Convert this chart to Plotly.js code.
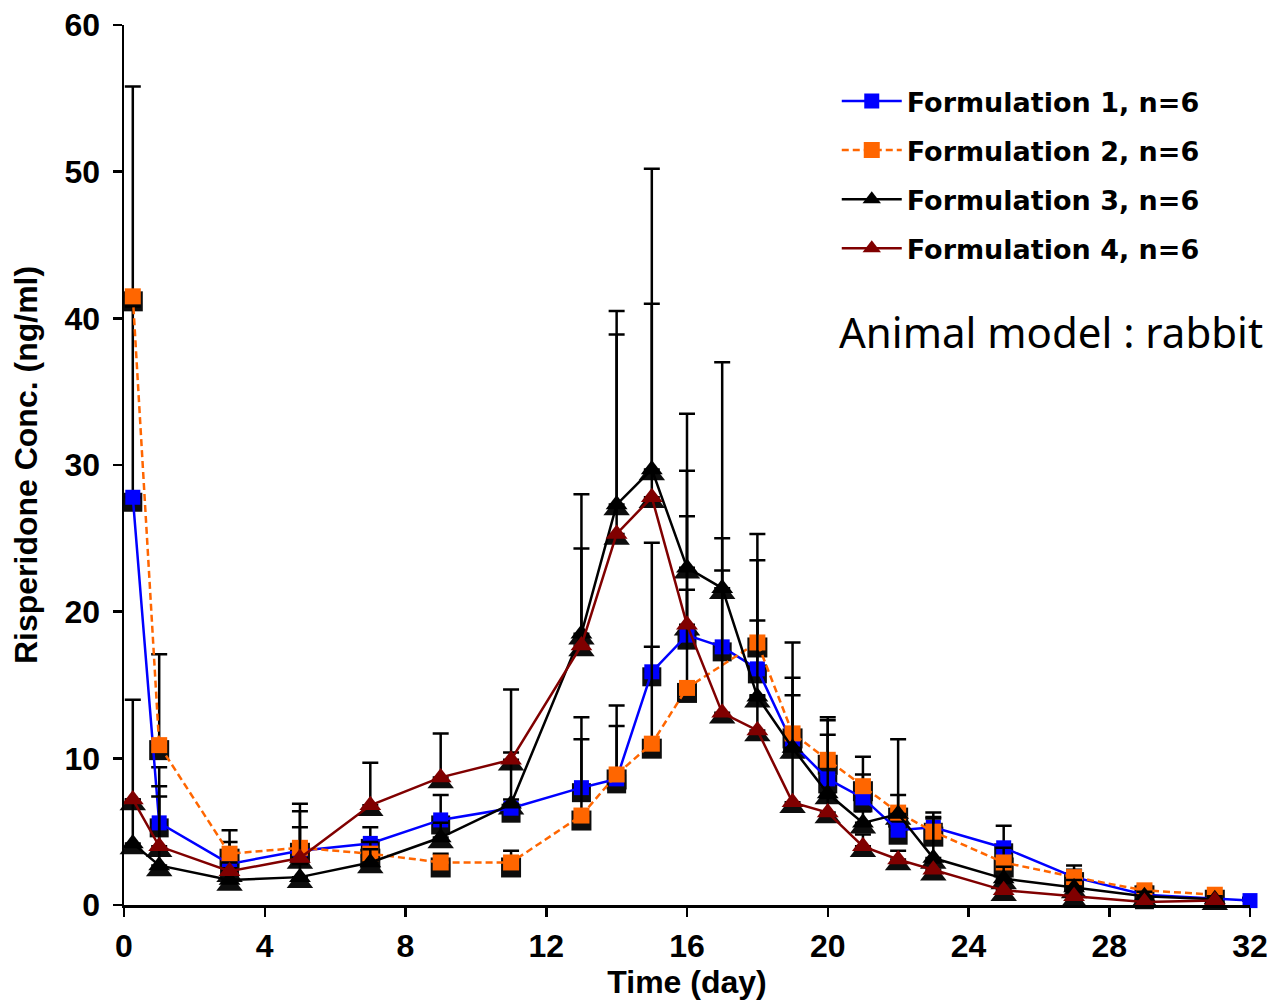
<!DOCTYPE html>
<html>
<head>
<meta charset="utf-8">
<script src="https://cdn.plot.ly/plotly-3.0.1.min.js"></script>
<style>html,body{margin:0;padding:0;background:#fff;}#chart{width:1274px;height:1000px;}</style>
</head>
<body>
<div id="chart"></div>
<script>
// ---- data ----
const days = [0.25, 1, 3, 5, 7, 9, 11, 13, 14, 15, 16, 17, 18, 19, 20, 21, 22, 23, 25, 27, 29, 31, 32];

const seriesNames = ["Formulation 1, n=6", "Formulation 2, n=6", "Formulation 3, n=6", "Formulation 4, n=6"];

const form1 = [27.8, 5.6, 2.8, 3.7, 4.2, 5.8, 6.6, 8.0, 8.6, 15.9, 18.4, 17.6, 16.1, 11.0, 8.6, 7.3, 5.1, 5.3, 3.9, 1.9, 0.7, null, 0.3];
const form2 = [41.5, 10.9, 3.5, 3.9, 3.5, 2.9, 2.9, 6.1, 8.9, 11.0, 14.8, null, 17.9, 11.7, 9.9, 8.1, 6.3, 5.0, 2.9, 1.9, 1.0, 0.7, null];
const form3 = [4.2, 2.7, 1.7, 1.9, 2.9, 4.6, 6.9, 18.5, 27.3, 29.7, 23.0, 21.6, 14.2, 10.7, 7.6, 5.6, 6.2, 3.2, 1.8, 1.2, 0.6, 0.4, null];
const form4 = [7.2, 4.0, 2.3, 3.2, 6.8, 8.7, 9.9, 17.7, 25.3, 27.8, 19.1, 13.1, 11.9, 7.0, 6.3, 4.0, 3.1, 2.4, 1.0, 0.6, 0.2, 0.3, null];

// upper (plus) error bars
const err1 = [13.0, 3.8, 1.5, 2.7, 1.1, 1.7, 0.6, 4.8, 5.0, 8.8, 8.1, 7.4, 7.4, 4.5, 4.0, 1.6, 0.6, 1.0, 1.5, 0.5, 0.3, null, 0.2];
const err2 = [14.3, 6.2, 1.6, 3.0, 0.8, 0.6, 0.8, 5.2, 3.3, 6.6, 6.7, null, 7.4, 6.2, 2.9, 2.0, 1.2, 0.9, 1.0, 0.8, 0.3, 0.2, null];
const err3 = [3.0, 4.7, 0.8, 0.9, 0.9, 1.0, 7.8, 9.5, 13.2, 20.5, 10.5, 15.4, 5.2, 3.6, 4.0, 0.8, 5.1, 2.8, 0.8, 0.5, 0.3, 0.2, null];
const err4 = [6.8, 4.1, 0.6, 2.1, 2.9, 3.0, 0.5, 6.6, 13.6, 13.2, 10.5, 9.7, 2.4, 3.7, 1.0, 0.8, 0.6, 0.5, 0.5, 0.3, 0.2, 0.2, null];

const xTickVals = [0, 4, 8, 12, 16, 20, 24, 28, 32];
const yTickVals = [0, 10, 20, 30, 40, 50, 60];

const annotationText = "Animal model : rabbit";
const xTitle = "Time (day)";
const yTitle = "Risperidone Conc. (ng/ml)";

// ---- styling ----
const values = [form1, form2, form3, form4];
const errors = [err1, err2, err3, err4];
const colors = ["#0000ff", "#ff6600", "#000000", "#800000"];
const symbols = ["square", "square", "triangle-up", "triangle-up"];
const sizes = [15, 16, 19, 19];
const dashes = ["solid", "7px,4px", "solid", "solid"];

const plotH = 880;               // pixel height of plot area
const yMax = 60;
const shadowPx = 5;              // drop shadow offset in pixels
const shadowShift = shadowPx * yMax / plotH;

const traces = [];
// shadows on the base (hidden) axes, shifted down a few px
for (let i = 0; i < 4; i++) {
  traces.push({
    x: days, y: values[i], type: "scatter", mode: "markers",
    xaxis: "x", yaxis: "y", showlegend: false, hoverinfo: "skip",
    cliponaxis: false, connectgaps: true,
    marker: { symbol: symbols[i], size: sizes[i] + 4, color: "#0d0d0d", line: { width: 0 } }
  });
}
// main series on overlay axes
for (let i = 0; i < 4; i++) {
  traces.push({
    x: days, y: values[i], type: "scatter", mode: "lines+markers",
    xaxis: "x2", yaxis: "y2", name: seriesNames[i], legendgroup: "g" + i,
    cliponaxis: false, connectgaps: true,
    line: { color: colors[i], width: 2.5, dash: dashes[i] },
    marker: { symbol: symbols[i], size: sizes[i], color: colors[i], line: { width: 0 } },
    error_y: { type: "data", symmetric: false, array: errors[i], arrayminus: errors[i].map(() => 0),
               color: "#000000", thickness: 2.5, width: 8 }
  });
}

const tickFont = { family: "Liberation Sans, Arial, sans-serif", size: 32, color: "#000", weight: "bold" };
const titleFont = { family: "Liberation Sans, Arial, sans-serif", size: 32, color: "#000", weight: "bold" };

const layout = {
  width: 1274, height: 1000,
  margin: { l: 124, r: 24, t: 25, b: 95, pad: 0 },
  paper_bgcolor: "#ffffff", plot_bgcolor: "#ffffff",
  showlegend: true,
  xaxis: { range: [0, 32], visible: false, fixedrange: true },
  yaxis: { range: [shadowShift, yMax + shadowShift], visible: false, fixedrange: true },
  xaxis2: {
    overlaying: "x", anchor: "y2", range: [0, 32],
    tickvals: xTickVals, ticktext: xTickVals.map(String),
    showline: true, linecolor: "#000", linewidth: 2.5,
    ticks: "outside", ticklen: 9, tickwidth: 2.5, tickcolor: "#000",
    showgrid: false, zeroline: false, tickfont: tickFont, ticklabelstandoff: 2,
    title: { text: xTitle, font: titleFont, standoff: 12 }
  },
  yaxis2: {
    overlaying: "y", anchor: "x2", range: [0, yMax],
    tickvals: yTickVals, ticktext: yTickVals.map(String),
    showline: true, linecolor: "#000", linewidth: 2.5,
    ticks: "outside", ticklen: 9, tickwidth: 2.5, tickcolor: "#000",
    showgrid: false, zeroline: false, tickfont: tickFont, ticklabelstandoff: 6,
    title: { text: yTitle, font: titleFont, standoff: 18 }
  },
  legend: {
    x: 0.633, y: 0.941, xanchor: "left", yanchor: "top",
    bgcolor: "rgba(0,0,0,0)", borderwidth: 0,
    font: { family: "DejaVu Sans, sans-serif", size: 27, color: "#000", weight: "bold" },
    tracegroupgap: 11, itemwidth: 60
  },
  annotations: [{
    text: annotationText, xref: "paper", yref: "paper",
    x: 1.013, y: 0.652, xanchor: "right", yanchor: "middle", showarrow: false,
    font: { family: "Noto Sans, sans-serif", size: 42, color: "#000" }
  }]
};

Plotly.newPlot("chart", traces, layout, { displayModeBar: false, staticPlot: true });
</script>
</body>
</html>
